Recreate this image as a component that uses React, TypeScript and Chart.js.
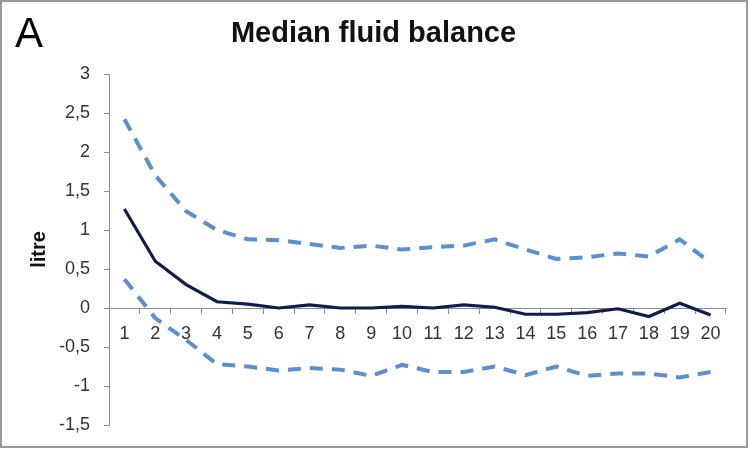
import React, { useEffect, useRef } from "react";
import { Chart, registerables } from "chart.js";

Chart.register(...registerables);

const categories = ["1","2","3","4","5","6","7","8","9","10","11","12","13","14","15","16","17","18","19","20"];
const median = [1.27, 0.6, 0.3, 0.08, 0.05, 0.0, 0.04, 0.0, 0.0, 0.02, 0.0, 0.04, 0.01, -0.08, -0.08, -0.06, -0.01, -0.11, 0.06, -0.09];
const upper = [2.42, 1.7, 1.24, 1.0, 0.88, 0.87, 0.82, 0.77, 0.8, 0.75, 0.78, 0.8, 0.88, 0.75, 0.63, 0.65, 0.7, 0.66, 0.88, 0.58];
const lower = [0.37, -0.13, -0.41, -0.72, -0.75, -0.8, -0.77, -0.79, -0.87, -0.73, -0.82, -0.82, -0.75, -0.86, -0.75, -0.87, -0.84, -0.84, -0.89, -0.82];
const yMin = -1.5;
const yMax = 3;
const yStep = 0.5;
const titleText = "Median fluid balance";
const yTitle = "litre";
const panelLabel = "A";

const FONT = "'Liberation Sans', Arial, sans-serif";

export default function App() {
  const ref = useRef<HTMLCanvasElement | null>(null);

  useEffect(() => {
    if (!ref.current) return;
    const dashColor = "#5b8fcf";
    const chart = new Chart(ref.current, {
      type: "line",
      data: {
        labels: categories,
        datasets: [
          {
            label: "upper",
            data: upper,
            borderColor: dashColor,
            borderWidth: 4,
            borderDash: [13, 9],
            pointRadius: 0,
            tension: 0,
            fill: false,
          },
          {
            label: "lower",
            data: lower,
            borderColor: dashColor,
            borderWidth: 4,
            borderDash: [13, 9],
            pointRadius: 0,
            tension: 0,
            fill: false,
          },
          {
            label: "median",
            data: median,
            borderColor: "#0e1d4c",
            borderWidth: 3.2,
            pointRadius: 0,
            tension: 0,
            fill: false,
          },
        ],
      },
      options: {
        animation: false,
        responsive: false,
        layout: { padding: { top: 74, left: 0, right: 23, bottom: 25 } },
        plugins: {
          legend: { display: false },
          tooltip: { enabled: false },
          title: { display: false },
        },
        scales: {
          x: {
            type: "category",
            position: { y: 0 } as any,
            offset: true,
            afterFit: (s: any) => {
              s.height = 0;
            },
            grid: {
              display: true,
              drawOnChartArea: false,
              drawTicks: true,
              tickLength: 5,
              offset: true,
              color: "#8c8c8c",
            },
            border: { display: true, color: "#8c8c8c", width: 1 },
            ticks: {
              color: "#333",
              font: { family: FONT, size: 18 },
              padding: 10,
              maxRotation: 0,
              autoSkip: false,
            },
          },
          y: {
            min: yMin,
            max: yMax,
            afterFit: (s: any) => {
              s.width = 109;
            },
            grid: {
              display: true,
              drawOnChartArea: false,
              drawTicks: true,
              tickLength: 5,
              color: "#8c8c8c",
            },
            border: { display: true, color: "#8c8c8c", width: 1 },
            ticks: {
              stepSize: yStep,
              color: "#333",
              font: { family: FONT, size: 18 },
              padding: 14,
              callback: (v: any) => String(Math.round(Number(v) * 10) / 10).replace(".", ","),
            },
            title: {
              display: true,
              text: yTitle,
              color: "#111",
              font: { family: FONT, size: 20, weight: "bold" },
              padding: { top: 27, bottom: 0 },
            },
          },
        },
      },
    });
    return () => chart.destroy();
  }, []);

  return (
    <div style={{ position: "fixed", left: 0, top: 0, width: 749, height: 450, background: "#fff", overflow: "hidden" }}>
      <canvas ref={ref} width={749} height={450} style={{ display: "block", width: 749, height: 450 }} />
      <div
        style={{
          position: "absolute",
          left: 15,
          top: 12,
          fontFamily: FONT,
          fontSize: 42,
          lineHeight: "42px",
          color: "#000",
        }}
      >
        {panelLabel}
      </div>
      <div
        style={{
          position: "absolute",
          left: -1,
          top: 18,
          width: 749,
          textAlign: "center",
          fontFamily: FONT,
          fontSize: 29,
          fontWeight: "bold",
          lineHeight: "29px",
          color: "#111",
          whiteSpace: "nowrap",
        }}
      >
        {titleText}
      </div>
      <div
        style={{
          position: "absolute",
          left: 0,
          top: 0,
          width: 748,
          height: 448,
          boxSizing: "border-box",
          border: "2px solid #9a9a9a",
          pointerEvents: "none",
        }}
      />
    </div>
  );
}
